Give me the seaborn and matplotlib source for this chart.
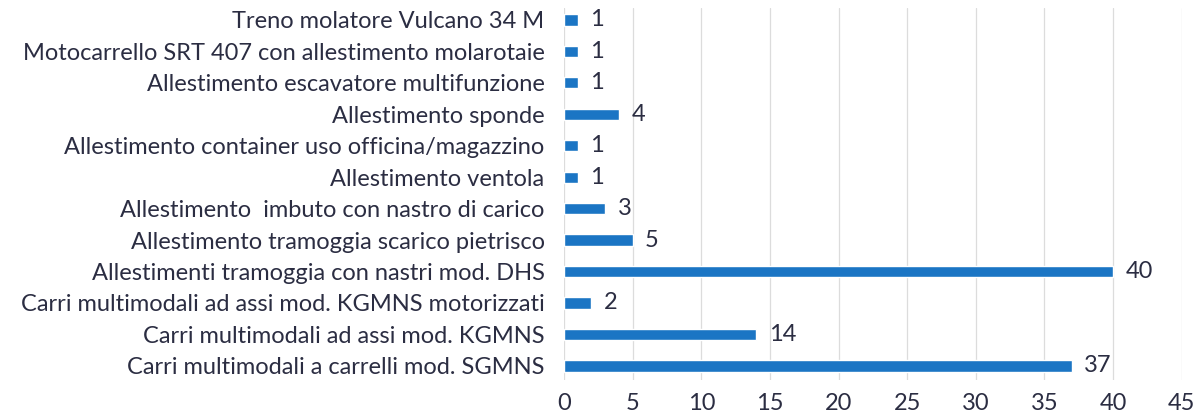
import matplotlib
matplotlib.use('Agg')
import matplotlib.pyplot as plt
import seaborn as sns
import pandas as pd

categories = [
    'Treno molatore Vulcano 34 M',
    'Motocarrello SRT 407 con allestimento molarotaie',
    'Allestimento escavatore multifunzione',
    'Allestimento sponde',
    'Allestimento container uso officina/magazzino',
    'Allestimento ventola',
    'Allestimento  imbuto con nastro di carico',
    'Allestimento tramoggia scarico pietrisco',
    'Allestimenti tramoggia con nastri mod. DHS',
    'Carri multimodali ad assi mod. KGMNS motorizzati',
    'Carri multimodali ad assi mod. KGMNS',
    'Carri multimodali a carrelli mod. SGMNS',
]
values = [1, 1, 1, 4, 1, 1, 3, 5, 40, 2, 14, 37]
xticks = [0, 5, 10, 15, 20, 25, 30, 35, 40, 45]

df = pd.DataFrame({'cat': categories, 'val': values})

sns.set_style('white')
plt.rcParams['font.family'] = ['Lato', 'DejaVu Sans']
text_col = '#2b2d42'
bar_col = '#1b75c4'
fs = 17

fig = plt.figure(figsize=(11.96, 4.18), dpi=100)
ax = fig.add_axes([0.4716, 0.0909, 0.5164, 0.89])
sns.barplot(data=df, x='val', y='cat', color=bar_col, width=0.36,
            saturation=1, ax=ax, orient='h')

for i, v in enumerate(values):
    ax.text(v + 0.9, i, str(v), va='center', ha='left', fontsize=fs, color=text_col)

ax.set_xlim(0, 45)
ax.set_ylim(11.45, -0.38)
ax.set_xticks(xticks)
ax.set_xlabel('')
ax.set_ylabel('')
ax.tick_params(axis='x', labelsize=fs, colors=text_col, length=0, pad=9)
ax.tick_params(axis='y', labelsize=fs, colors=text_col, length=0, pad=14)
ax.grid(axis='x', color='#dcdcdc', linewidth=0.9)
ax.set_axisbelow(True)
for s in ax.spines.values():
    s.set_visible(False)

fig.savefig('out.png', dpi=100)
